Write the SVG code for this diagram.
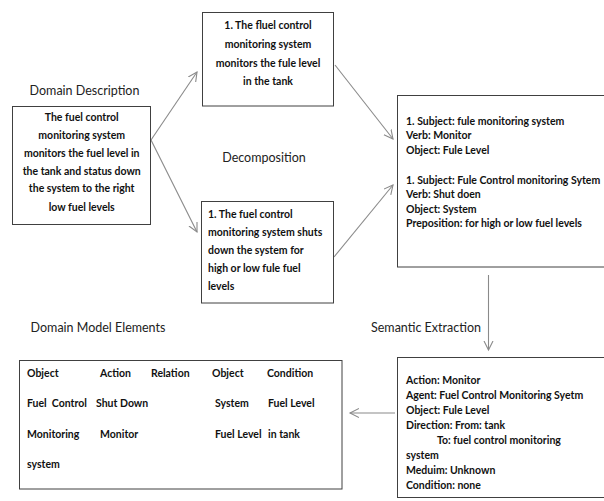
<svg xmlns="http://www.w3.org/2000/svg" width="604" height="501" viewBox="0 0 604 501">
<style>
.box{fill:#fff;stroke:#404040;stroke-width:1}
.t{font-family:Lato,"Open Sans","Liberation Sans",sans-serif;font-weight:bold;font-size:10.5px;fill:#111}
.c{text-anchor:middle}
.title{font-family:Lato,"Open Sans","Liberation Sans",sans-serif;font-size:12.5px;fill:#222}
.conn{stroke:#8a8a8a;stroke-width:1.1;fill:none;marker-end:url(#ah)}
</style>
<defs>
<marker id="ah" markerUnits="userSpaceOnUse" markerWidth="12" markerHeight="12" refX="9" refY="5" orient="auto">
<path d="M0,0.5 L9,5 L0,9.5" fill="none" stroke="#8a8a8a" stroke-width="1.1"/>
</marker>
</defs>
<rect width="604" height="501" fill="#fff"/>
<text class="title c" x="84.5" y="95">Domain Description</text>
<text class="title c" x="264" y="161.5">Decomposition</text>
<text class="title c" x="426" y="331.5">Semantic Extraction</text>
<text class="title c" x="98" y="331.5">Domain Model Elements</text>

<g id="connectors">
<line class="conn" x1="151" y1="140" x2="197" y2="72"/>
<line class="conn" x1="151" y1="140" x2="197" y2="232"/>
<line class="conn" x1="335" y1="65" x2="393" y2="139"/>
<line class="conn" x1="334" y1="257" x2="393" y2="185"/>
<line class="conn" x1="488.5" y1="275" x2="488.5" y2="350"/>
<line class="conn" x1="395" y1="413" x2="350" y2="413"/>
</g>

<g id="domain-description">
<rect class="box" x="12.5" y="106.5" width="138" height="118"/>
<text class="t c" x="81.7" y="120.7">The fuel control</text>
<text class="t c" x="81.7" y="139">monitoring system</text>
<text class="t c" x="81.7" y="157.3">monitors the fuel level in</text>
<text class="t c" x="81.7" y="174.7">the tank and status down</text>
<text class="t c" x="81.7" y="192.3">the system to the right</text>
<text class="t c" x="81.7" y="210.7">low fuel levels</text>
</g>

<g id="decomp-1">
<rect class="box" x="202.5" y="12.5" width="131" height="93.5"/>
<text class="t c" x="268" y="29">1. The fluel control</text>
<text class="t c" x="268" y="47.5">monitoring system</text>
<text class="t c" x="268" y="66.5">monitors the fule level</text>
<text class="t c" x="268" y="85">in the tank</text>
</g>

<g id="decomp-2">
<rect class="box" x="201.5" y="201.5" width="132" height="101.5"/>
<text class="t" x="208" y="218">1. The fuel control</text>
<text class="t" x="208" y="236">monitoring system shuts</text>
<text class="t" x="208" y="254">down the system for</text>
<text class="t" x="208" y="272">high or low fule fuel</text>
<text class="t" x="208" y="290">levels</text>
</g>

<g id="parse">
<rect class="box" x="397.5" y="95.5" width="215" height="171.5"/>
<text class="t" x="406" y="124.5">1. Subject: fule monitoring system</text>
<text class="t" x="406" y="139">Verb: Monitor</text>
<text class="t" x="406" y="153.5">Object: Fule Level</text>
<text class="t" x="406" y="183.5">1. Subject: Fule Control monitoring Sytem</text>
<text class="t" x="406" y="198">Verb: Shut doen</text>
<text class="t" x="406" y="212.5">Object: System</text>
<text class="t" x="406" y="227">Preposition: for high or low fuel levels</text>
</g>

<g id="semantic">
<rect class="box" x="397.5" y="357.5" width="215" height="140"/>
<text class="t" x="406" y="384">Action: Monitor</text>
<text class="t" x="406" y="399">Agent: Fuel Control Monitoring  Syetm</text>
<text class="t" x="406" y="414">Object: Fule Level</text>
<text class="t" x="406" y="429">Direction: From: tank</text>
<text class="t" x="437" y="444">To: fuel control  monitoring</text>
<text class="t" x="406" y="459">system</text>
<text class="t" x="406" y="474">Meduim: Unknown</text>
<text class="t" x="406" y="489">Condition: none</text>
</g>

<g id="domain-model">
<rect class="box" x="19.5" y="360.5" width="322.5" height="128.5"/>
<text class="t" x="27" y="377">Object</text>
<text class="t" x="100" y="377">Action</text>
<text class="t" x="151" y="377">Relation</text>
<text class="t" x="212" y="377">Object</text>
<text class="t" x="267" y="377">Condition</text>
<text class="t" x="27" y="407" xml:space="preserve">Fuel  Control</text>
<text class="t" x="96" y="407">Shut Down</text>
<text class="t" x="215" y="407">System</text>
<text class="t" x="268" y="407">Fuel Level</text>
<text class="t" x="27" y="438">Monitoring</text>
<text class="t" x="100" y="438">Monitor</text>
<text class="t" x="215" y="438">Fuel Level</text>
<text class="t" x="268" y="438">in tank</text>
<text class="t" x="27" y="468">system</text>
</g>
</svg>
